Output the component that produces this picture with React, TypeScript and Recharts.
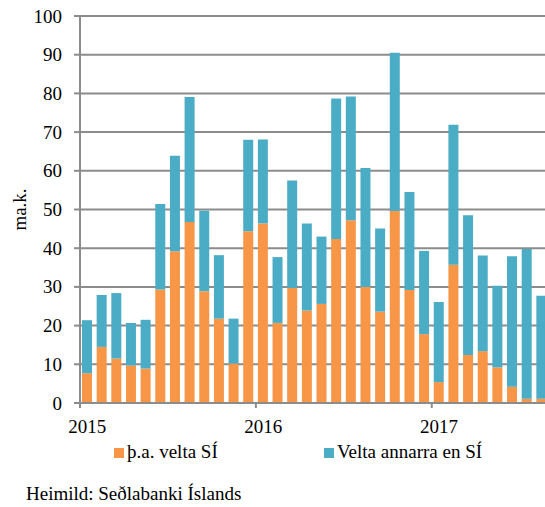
import { BarChart, Bar, XAxis, YAxis, CartesianGrid } from 'recharts';

// monthly, Jan 2015 - Aug 2017
const months = [
  '2015-01', '2015-02', '2015-03', '2015-04', '2015-05', '2015-06',
  '2015-07', '2015-08', '2015-09', '2015-10', '2015-11', '2015-12',
  '2016-01', '2016-02', '2016-03', '2016-04', '2016-05', '2016-06',
  '2016-07', '2016-08', '2016-09', '2016-10', '2016-11', '2016-12',
  '2017-01', '2017-02', '2017-03', '2017-04', '2017-05', '2017-06',
  '2017-07', '2017-08',
];

// þ.a. velta SÍ (ma.k.)
const veltaSI = [
  7.7, 14.5, 11.5, 9.7, 8.9, 29.3, 39.2, 46.8, 28.9, 21.8, 10.2, 44.4,
  46.4, 20.7, 29.7, 23.9, 25.6, 42.4, 47.2, 30.0, 23.6, 49.6, 29.2, 17.8,
  5.4, 35.7, 12.4, 13.4, 9.2, 4.2, 1.1, 1.1,
];

// Velta annarra en SÍ (ma.k.)
const veltaAnnarra = [
  13.7, 13.4, 16.9, 11.0, 12.6, 22.1, 24.7, 32.3, 20.8, 16.4, 11.6, 23.6,
  21.7, 17.0, 27.8, 22.5, 17.4, 36.3, 32.0, 30.7, 21.5, 40.9, 25.3, 21.5,
  20.7, 36.2, 36.1, 24.7, 21.1, 33.7, 38.7, 26.6,
];

const yTicks = [0, 10, 20, 30, 40, 50, 60, 70, 80, 90, 100];
const yearLabels: Record<string, string> = { '2015-01': '2015', '2016-01': '2016', '2017-01': '2017' };

const ORANGE = '#F79646';
const BLUE = '#4BACC6';
const GRID = '#8c8c8c';
const FONT = '"Liberation Serif", "Times New Roman", serif';

const CHART_W = 549;
const CHART_H = 440;
const Y_AXIS_W = 80;
const X_AXIS_H = 37;
const MARGIN = { top: 16, right: 0, bottom: 0, left: 0 };
const PLOT_BOTTOM = CHART_H - MARGIN.bottom - X_AXIS_H;
const BAND = (CHART_W - Y_AXIS_W - MARGIN.left - MARGIN.right) / months.length;

const data = months.map((m, i) => ({ month: m, si: veltaSI[i], annarra: veltaAnnarra[i] }));

function YearTick({ x, payload }: any) {
  const label = yearLabels[payload.value];
  if (!label) return null;
  const edge = x - BAND / 2;
  return (
    <g>
      <line x1={edge} x2={edge} y1={PLOT_BOTTOM} y2={PLOT_BOTTOM + 5} stroke={GRID} strokeWidth={2} />
      <text x={x} y={PLOT_BOTTOM + 30} textAnchor="middle" fontSize={19} fill="#000" fontFamily={FONT}>
        {label}
      </text>
    </g>
  );
}

function ValueTick({ x, y, payload }: any) {
  return (
    <text x={x} y={y} dy={6.5} textAnchor="end" fontSize={19} fill="#000" fontFamily={FONT}>
      {payload.value}
    </text>
  );
}

const legendItems = [
  { name: 'þ.a. velta SÍ', color: ORANGE, width: 210 },
  { name: 'Velta annarra en SÍ', color: BLUE, width: 200 },
];

export default function App() {
  return (
    <div
      style={{
        position: 'absolute',
        left: 0,
        top: 0,
        width: 545,
        height: 507,
        overflow: 'hidden',
        background: '#fff',
        fontFamily: FONT,
      }}
    >
      <BarChart width={CHART_W} height={CHART_H} data={data} margin={MARGIN}>
        <CartesianGrid vertical={false} stroke={GRID} strokeWidth={2} />
        <XAxis
          dataKey="month"
          height={X_AXIS_H}
          interval={0}
          tickLine={false}
          axisLine={{ stroke: GRID, strokeWidth: 2 }}
          tick={<YearTick />}
        />
        <YAxis
          width={Y_AXIS_W}
          domain={[0, 100]}
          ticks={yTicks}
          interval={0}
          tickSize={6}
          tickMargin={12}
          axisLine={{ stroke: GRID, strokeWidth: 2 }}
          tickLine={{ stroke: GRID, strokeWidth: 2 }}
          tick={<ValueTick />}
          label={{
            value: 'ma.k.',
            angle: -90,
            position: 'insideLeft',
            offset: 19,
            style: { textAnchor: 'middle', fontSize: 19, fill: '#000', fontFamily: FONT },
          }}
        />
        <Bar dataKey="si" stackId="a" fill={ORANGE} barSize={10} isAnimationActive={false} />
        <Bar dataKey="annarra" stackId="a" fill={BLUE} barSize={10} isAnimationActive={false} />
      </BarChart>

      <div style={{ position: 'absolute', left: 114, top: 442, display: 'flex', fontSize: 19, lineHeight: '20px' }}>
        {legendItems.map((item) => (
          <div key={item.name} style={{ width: item.width, whiteSpace: 'nowrap' }}>
            <span style={{ display: 'inline-block', width: 10, height: 10, background: item.color, marginRight: 3 }} />
            {item.name}
          </div>
        ))}
      </div>

      <div style={{ position: 'absolute', left: 26, top: 484, fontSize: 19, lineHeight: '20px' }}>
        Heimild: Seðlabanki Íslands
      </div>
    </div>
  );
}
